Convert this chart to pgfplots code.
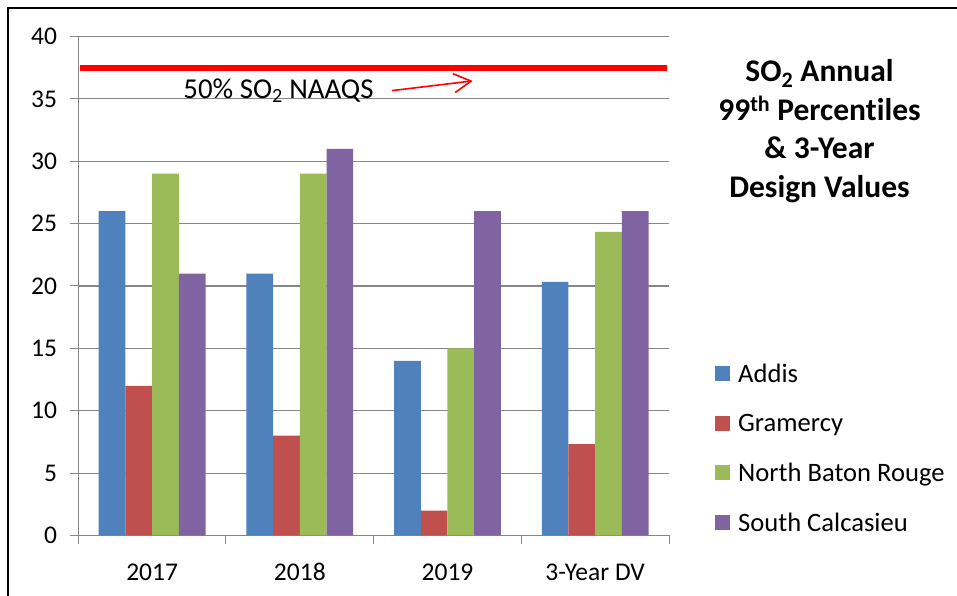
\documentclass[border=0pt]{standalone}
\usepackage{pgfplots}
\pgfplotsset{compat=1.18}
\usepackage{fontspec}
\setmainfont{Carlito}[Ligatures={NoCommon}]
\usetikzlibrary{arrows.meta}
\definecolor{cA}{HTML}{4F81BD}
\definecolor{cB}{HTML}{C0504D}
\definecolor{cC}{HTML}{9BBB59}
\definecolor{cD}{HTML}{8064A2}
\definecolor{axgray}{HTML}{868686}
\pgfplotsset{sqleg/.style={legend image code/.code={\draw[##1,draw=none] (0pt,-7.5pt) rectangle (15pt,7.5pt);}}}
\begin{document}
\begin{tikzpicture}
\useasboundingbox (0,0) rectangle (957pt,596pt);
\draw[black, line width=1.8pt] (8pt,0) -- (8pt,588pt) -- (957pt,588pt);
\node[align=center, font=\fontsize{31.5}{38.5}\selectfont\bfseries] at (819.5pt,465pt)
  {SO\textsubscript{2} Annual\\99\textsuperscript{th} Percentiles\\\& 3-Year\\Design Values};
\begin{axis}[
  at={(78.3pt,60.5pt)}, anchor=south west,
  scale only axis, width=590.7pt, height=499pt,
  ybar=0pt, bar width=26.7pt,
  xmin=-0.5, xmax=3.5, ymin=0, ymax=40,
  xtick={0,1,2,3},
  xticklabels={2017,2018,2019,3-Year DV},
  minor xtick={-0.5,0.5,1.5,2.5,3.5},
  ytick={0,5,...,40},
  every major x tick/.style={draw=none},
  tick align=outside,
  major tick length=8pt, minor tick length=8pt,
  tick style={axgray, line width=1pt},
  axis x line*=bottom, axis y line*=left,
  axis line style={-, axgray, line width=1.2pt},
  ymajorgrids, grid style={axgray, line width=1.1pt},
  /pgf/number format/assume math mode=true,
  ticklabel style={font=\fontsize{25.5}{30}\selectfont},
  yticklabel style={inner sep=0pt, xshift=-13pt},
  xticklabel style={inner sep=0pt, yshift=-20pt, text height=16.3pt, text depth=0pt},
  legend style={at={(1.0778,0.175)}, anchor=west, draw=none, fill=none,
    font=\fontsize{26.6}{30}\selectfont, row sep=26pt, column sep=6pt, inner sep=0pt},
  legend cell align=left,
]
\addplot[fill=cA, draw=none, sqleg] coordinates {(0,26) (1,21) (2,14) (3,20.33)};
\addplot[fill=cB, draw=none, sqleg] coordinates {(0,12) (1,8) (2,2) (3,7.33)};
\addplot[fill=cC, draw=none, sqleg] coordinates {(0,29) (1,29) (2,15) (3,24.33)};
\addplot[fill=cD, draw=none, sqleg] coordinates {(0,21) (1,31) (2,26) (3,26)};
\legend{Addis, Gramercy, North Baton Rouge, South Calcasieu}
\addplot[sharp plot, red, line width=6pt, forget plot] coordinates {(-0.4885,37.5) (3.486,37.5)};
\node[anchor=base west, font=\fontsize{28.8}{32}\selectfont, inner sep=0pt] at (axis cs:0.211,35.05) {50\% SO\textsubscript{2} NAAQS};
\draw[red, line width=1.6pt, -{Straight Barb[length=17pt,width=19pt]}] (axis cs:1.624,35.66) -- (axis cs:2.17,36.44);
\end{axis}
\end{tikzpicture}
\end{document}
